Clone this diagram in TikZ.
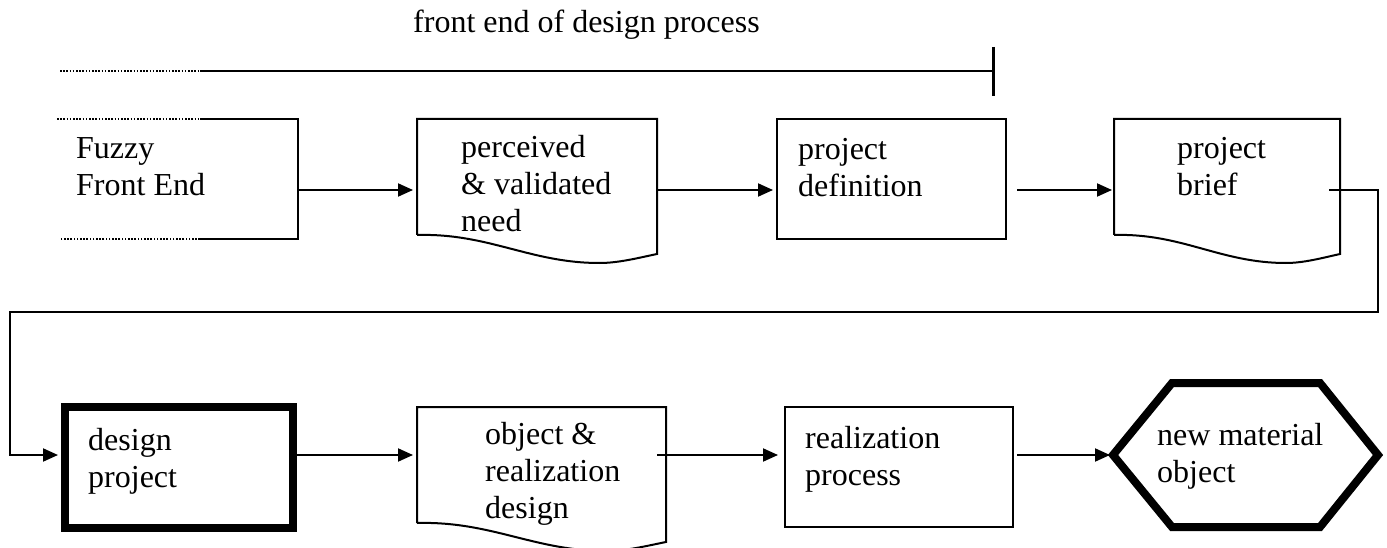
\documentclass[tikz,border=0pt]{standalone}
\usepackage{fontspec}
\setmainfont{Liberation Serif}
\usetikzlibrary{arrows.meta,calc}

\tikzset{
  thinline/.style={line width=2pt},
  thickline/.style={line width=8pt},
  frame/.style={rectangle, draw=none, inner sep=0pt, outer sep=0pt},
  boxthin/.style={frame, draw, thinline},
  boxthick/.style={frame, draw, thickline},
  flow/.style={thinline, -{Triangle[length=15pt,width=13pt]}},
  % anchored at the baseline of the last line
  lbl/.style={anchor=base west, align=left, inner sep=0pt,
              font=\fontsize{32}{37}\selectfont},
  dots/.style={line width=1.6pt, dash pattern=on 1.6pt off 1.6pt},
}

% outline of a "document" symbol around a frame node: wavy lower edge
\newcommand\docoutline[1]{%
  \draw[thinline] let \p1=(#1.south west), \p2=(#1.north east), \n1={\x2-\x1} in
    (\p1) -- (\x1,\y2) -- (\x2,\y2) -- (\x2,\y1-19pt)
    .. controls (\x2-0.08*\n1,\y1-23pt) and (\x2-0.16*\n1,\y1-28pt) .. (\x1+0.76*\n1,\y1-28pt)
    .. controls (\x1+0.47*\n1,\y1-28pt) and (\x1+0.30*\n1,\y1+2pt) .. (\p1);}

\begin{document}
\begin{tikzpicture}[x=1pt,y=-1pt]
  \useasboundingbox (0,0) rectangle (1387,548);
  \fill[white] (0,0) rectangle (1387,548);

  % timeline of the front end
  \coordinate (tl0) at (60,71);
  \coordinate (tl1) at (200,71);
  \coordinate (tlend) at (993,71);
  \draw[dots] (tl0) -- (tl1);
  \draw[thinline] (tl1) -- (tlend);
  \draw[line width=3pt] ($(tlend)+(0,-24)$) -- ($(tlend)+(0,25)$);
  \node[lbl] (title) at (413,33) {front end of design process};

  % flow levels
  \coordinate (r1) at (0,190);
  \coordinate (r2) at (0,455);

  % first row
  \node[frame, minimum width=241pt, minimum height=120pt] (fuzzy) at (177.5,179) {};
  \draw[dots] (fuzzy.north west) -- ++(143,0);
  \draw[thinline] ($(fuzzy.north west)+(143,0)$) -- (fuzzy.north east)
    -- (fuzzy.south east) -- ($(fuzzy.south west)+(143,0)$);
  \draw[dots] ($(fuzzy.south west)+(143,0)$) -- ++(-140,0);

  \node[frame, minimum width=240pt, minimum height=116pt] (perc) at (537,177) {};
  \docoutline{perc}

  \node[boxthin, minimum width=229pt, minimum height=120pt] (defn) at (891.5,179) {};

  \node[frame, minimum width=226pt, minimum height=116pt] (brief) at (1227,177) {};
  \docoutline{brief}

  % second row
  \node[boxthick, minimum width=228pt, minimum height=121pt] (dproj) at (179,467.5) {};

  \node[frame, minimum width=249pt, minimum height=116pt] (odes) at (541.5,465) {};
  \docoutline{odes}

  \node[boxthin, minimum width=228pt, minimum height=120pt] (rproc) at (899,467) {};

  \node[frame, minimum width=265pt, minimum height=144pt] (newobj) at (1245.5,455) {};
  \draw[thickline, line join=miter] (newobj.west)
    -- ($(newobj.north west)+(59,0)$) -- ($(newobj.north east)+(-58,0)$)
    -- (newobj.east)
    -- ($(newobj.south east)+(-58,0)$) -- ($(newobj.south west)+(59,0)$)
    -- cycle;

  % labels
  \node[lbl] (tfuzzy) at (76,196) {Fuzzy\\Front End};
  \node[lbl] (tperc) at (461,232) {perceived\\\& validated\\need};
  \node[lbl] (tdefn) at (798,197) {project\\definition};
  \node[lbl] (tbrief) at (1177,196) {project\\brief};
  \node[lbl] (tdproj) at (88,487) {design\\project};
  \node[lbl] (todes) at (485,518) {object \&\\realization\\design};
  \node[lbl] (trproc) at (805,485) {realization\\process};
  \node[lbl] (tnew) at (1157,482) {new material\\object};

  % connectors
  \coordinate (turnR) at (1378,312);
  \coordinate (turnL) at (10,312);
  \draw[flow] (fuzzy.east |- r1) -- ($(perc.west |- r1)+(-4,0)$);
  \draw[flow] (perc.east |- r1) -- ($(defn.west |- r1)+(-4,0)$);
  \draw[flow] ($(defn.east |- r1)+(11,0)$) -- ($(brief.west |- r1)+(-2,0)$);
  \draw[flow] ($(brief.east |- r1)+(-11,0)$) -| (turnR) -- (turnL)
    |- ($(dproj.west |- r2)+(-7,0)$);
  \draw[flow] ($(dproj.east |- r2)+(4,0)$) -- ($(odes.west |- r2)+(-4,0)$);
  \draw[flow] ($(odes.east |- r2)+(-9,0)$) -- ($(rproc.west |- r2)+(-7,0)$);
  \draw[flow] ($(rproc.east |- r2)+(4,0)$) -- ($(newobj.west)+(-3,0)$);
\end{tikzpicture}
\end{document}
